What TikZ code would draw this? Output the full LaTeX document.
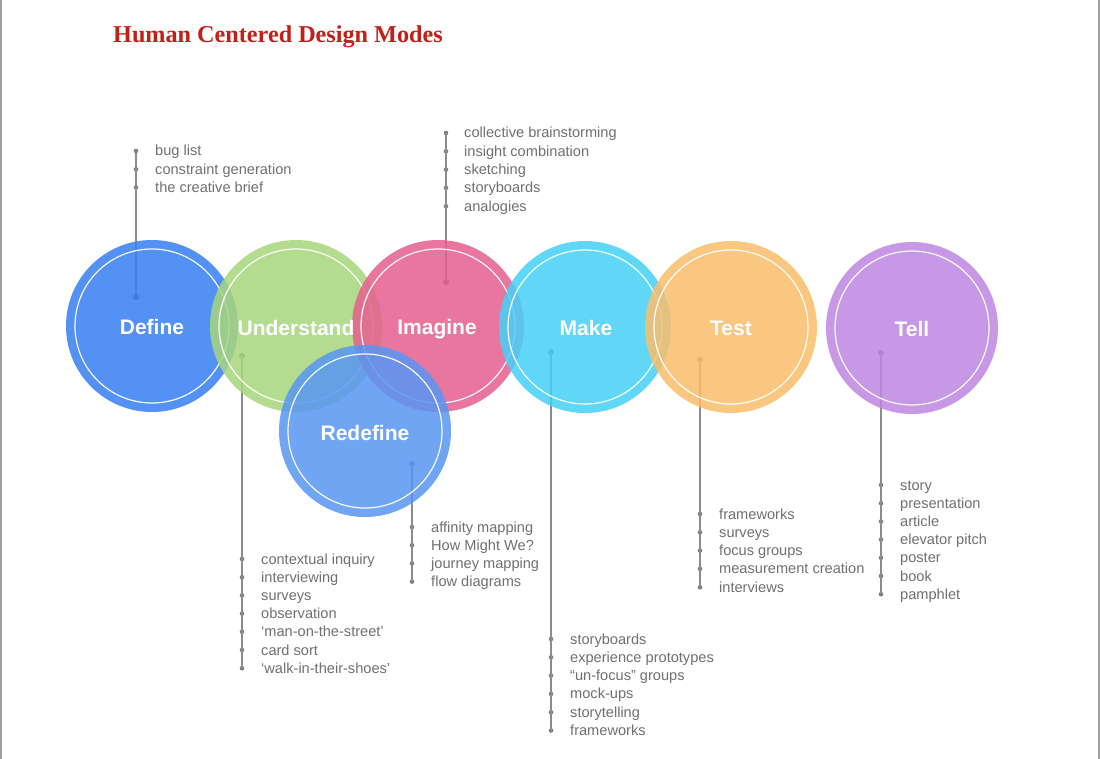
\documentclass[tikz,border=0pt]{standalone}
\usepackage{fontspec}
\newfontfamily\itemfont{Liberation Sans}
\newfontfamily\titlefont{Liberation Serif}
\definecolor{cDefine}{RGB}{54,126,243}
\definecolor{cUnder}{RGB}{168,214,123}
\definecolor{cImagine}{RGB}{229,95,143}
\definecolor{cMake}{RGB}{70,209,247}
\definecolor{cTest}{RGB}{250,190,107}
\definecolor{cTell}{RGB}{189,134,226}
\definecolor{cRedef}{RGB}{87,150,243}
\definecolor{itemgray}{RGB}{112,112,112}
\definecolor{linegray}{RGB}{140,140,140}
\definecolor{titlered}{RGB}{196,30,24}
\definecolor{bordergray}{RGB}{160,160,160}
\tikzset{
  x=1pt, y=-1pt,
  modecirc/.style={circle, minimum size=172pt, inner sep=0pt, fill opacity=0.85, draw=none},
  ring/.style={draw=white, line width=1.2pt, draw opacity=0.95},
  modelabel/.style={anchor=base, text=white, font=\itemfont\bfseries\fontsize{21}{21}\selectfont, inner sep=0pt},
  item/.style={anchor=base west, text=itemgray, font=\itemfont\fontsize{14.6}{15}\selectfont, inner sep=0pt},
  dotn/.style={circle, fill=linegray!90!black, minimum size=4.6pt, inner sep=0pt},
  maindot/.style={circle, fill=linegray!80!black, minimum size=6pt, inner sep=0pt},
  conn/.style={draw=linegray, line width=1.2pt},
}
\begin{document}
\begin{tikzpicture}
\useasboundingbox (0,0) rectangle (1100,759);
\fill[white] (0,0) rectangle (1100,759);
\coordinate (bl1) at (0.8,0); \coordinate (bl2) at (0.8,759);
\coordinate (br1) at (1099,0); \coordinate (br2) at (1099,759);
\draw[bordergray, line width=1.6pt] (bl1) -- (bl2);
\draw[bordergray, line width=1.6pt] (br1) -- (br2);

% title
\node[anchor=base west, text=titlered, font=\titlefont\bfseries\fontsize{24.2}{25}\selectfont, inner sep=0pt] (title) at (113,43) {Human Centered Design Modes};

% ---------- connectors and item lists ----------
% Define
\node[maindot] (defm) at (136,297) {};
\foreach \t [count=\i] in {bug list, constraint generation, the creative brief} {
  \node[dotn] (defd\i) at (136,{151+18.2*(\i-1)}) {};
  \node[item] (deft\i) at (155,{156+18.2*(\i-1)}) {\t};
}
\draw[conn] (defd1.center) -- (defm.center);

% Understand
\node[maindot] (undm) at (242,356) {};
\foreach \t [count=\i] in {contextual inquiry, interviewing, surveys, observation, ‘man-on-the-street’, card sort, ‘walk-in-their-shoes’} {
  \node[dotn] (undd\i) at (242,{559+18.2*(\i-1)}) {};
  \node[item] (undt\i) at (261,{564+18.2*(\i-1)}) {\t};
}
\draw[conn] (undm.center) -- (undd7.center);

% Imagine
\node[maindot] (imam) at (446,282) {};
\foreach \t [count=\i] in {collective brainstorming, insight combination, sketching, storyboards, analogies} {
  \node[dotn] (imad\i) at (446,{133+18.3*(\i-1)}) {};
  \node[item] (imat\i) at (464,{138+18.3*(\i-1)}) {\t};
}
\draw[conn] (imad1.center) -- (imam.center);

% Make
\node[maindot] (makm) at (551,352) {};
\foreach \t [count=\i] in {storyboards, experience prototypes, “un-focus” groups, mock-ups, storytelling, frameworks} {
  \node[dotn] (makd\i) at (551,{639+18.3*(\i-1)}) {};
  \node[item] (makt\i) at (570,{644+18.3*(\i-1)}) {\t};
}
\draw[conn] (makm.center) -- (makd6.center);

% Test
\node[maindot] (tesm) at (700,360) {};
\foreach \t [count=\i] in {frameworks, surveys, focus groups, measurement creation, interviews} {
  \node[dotn] (tesd\i) at (700,{514+18.3*(\i-1)}) {};
  \node[item] (test\i) at (719,{519+18.3*(\i-1)}) {\t};
}
\draw[conn] (tesm.center) -- (tesd5.center);

% Tell
\node[maindot] (telm) at (881,353) {};
\foreach \t [count=\i] in {story, presentation, article, elevator pitch, poster, book, pamphlet} {
  \node[dotn] (teld\i) at (881,{485+18.2*(\i-1)}) {};
  \node[item] (telt\i) at (900,{490+18.2*(\i-1)}) {\t};
}
\draw[conn] (telm.center) -- (teld7.center);

% Redefine
\node[maindot] (redm) at (412,464) {};
\foreach \t [count=\i] in {affinity mapping, How Might We?, journey mapping, flow diagrams} {
  \node[dotn] (redd\i) at (412,{527+18.2*(\i-1)}) {};
  \node[item] (redt\i) at (431,{532+18.2*(\i-1)}) {\t};
}
\draw[conn] (redm.center) -- (redd4.center);

% ---------- circles ----------
\node[modecirc, fill=cDefine] (define) at (152,326) {};
\draw[ring] (define.center) circle (77);
\node[modecirc, fill=cUnder] (understand) at (296,326) {};
\draw[ring] (understand.center) circle (77);
\node[modecirc, fill=cImagine] (imagine) at (438,326) {};
\draw[ring] (imagine.center) circle (77);
\node[modecirc, fill=cMake] (make) at (585,327) {};
\draw[ring] (make.center) circle (77);
\node[modecirc, fill=cTest] (testc) at (731,327) {};
\draw[ring] (testc.center) circle (77);
\node[modecirc, fill=cTell] (tell) at (912,328) {};
\draw[ring] (tell.center) circle (77);
\node[modecirc, fill=cRedef] (redefine) at (365,431) {};
\draw[ring] (redefine.center) circle (77);

% labels
\node[modelabel] (ldefine) at (152,334.5) {Define};
\node[modelabel] (lunder) at (296,335.5) {Understand};
\node[modelabel] (limagine) at (437,334.5) {Imagine};
\node[modelabel] (lmake) at (586,335.5) {Make};
\node[modelabel] (ltest) at (731,335.5) {Test};
\node[modelabel] (ltell) at (912,336.5) {Tell};
\node[modelabel] (lredefine) at (365,440.5) {Redefine};
\end{tikzpicture}
\end{document}
